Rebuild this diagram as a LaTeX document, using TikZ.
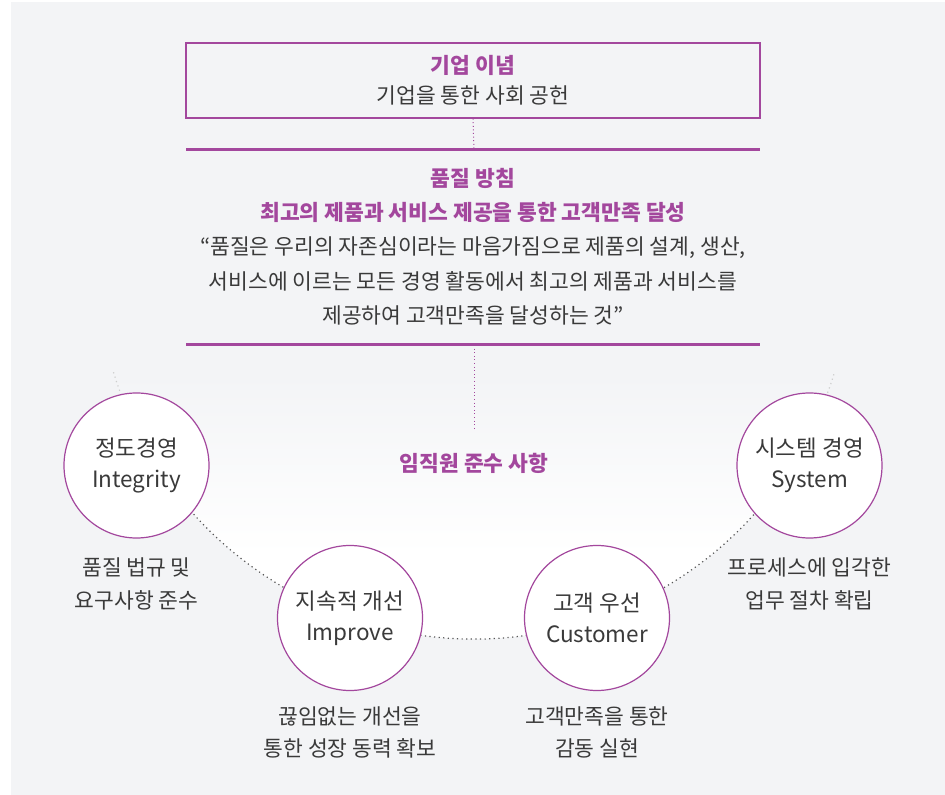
\documentclass[tikz,border=0pt]{standalone}
\usepackage{fontspec}
\setmainfont{Noto Sans CJK KR}
\usepackage{xcolor}
\usepackage{tikz}
\usetikzlibrary{positioning}
\definecolor{brand}{HTML}{A3479D}
\definecolor{ink}{HTML}{3A3A3A}
\definecolor{paper}{HTML}{F3F4F6}

\begin{document}
\begin{tikzpicture}[x=1pt,y=1pt,font=\fontsize{21.5}{30}\selectfont,node distance=15pt]
 \tikzset{box/.style={draw=brand,line width=1.2pt,align=center,text=ink,minimum width=574pt,minimum height=75pt},
          body/.style={align=center,text=ink,font=\fontsize{21.5}{34.3}\selectfont},
          head/.style={text=brand,font=\fontsize{21.5}{26}\selectfont\bfseries},
          rule/.style={brand,line width=3pt},
          link/.style={brand,line width=1pt,dash pattern=on 1pt off 2.6pt},
          ring/.style={ink!85,line width=1.2pt,dash pattern=on 1.2pt off 3.4pt},
          value/.style={circle,draw=brand,line width=1.2pt,fill=white,minimum size=145pt,inner sep=0pt,align=center,text=ink,font=\fontsize{22.5}{31}\selectfont},
          note/.style={align=center,text=ink,inner sep=0pt,font=\fontsize{21.5}{32.5}\selectfont}}
 \fill[paper] (11,0) rectangle (945,793);
 \useasboundingbox (0,0) rectangle (945,795);
 % glow inside the ring
 \begin{scope}
  \clip (474,533) circle (377);
  \shade[top color=paper,bottom color=white] (11,420) rectangle (945,240);
  \fill[white] (11,240) rectangle (945,0);
 \end{scope}
 % ideal and policy
 \node[box] (ideal) at (473,714.5) {{\color{brand}\bfseries 기업 이념}\\기업을 통한 사회 공헌};
 \coordinate (r1w) at (186,645); \coordinate (r1e) at (760,645); \coordinate (r1) at (474,645);
 \coordinate (r2w) at (186,450); \coordinate (r2e) at (760,450); \coordinate (r2) at (474,450);
 \coordinate (r3) at (474,367);
 \draw[rule] (r1w)--(r1e); \draw[rule] (r2w)--(r2e);
 \draw[link] (ideal.south)--(r1); \draw[link] (r2)--(r3);
 \node[body] (policy) at (473,548.5) {{\color{brand}\bfseries 품질 방침}\\
   {\color{brand}\bfseries 최고의 제품과 서비스 제공을 통한 고객만족 달성}\\
   “품질은 우리의 자존심이라는 마음가짐으로 제품의 설계, 생산,\\
   서비스에 이르는 모든 경영 활동에서 최고의 제품과 서비스를\\
   제공하여 고객만족을 달성하는 것”};
 \node[head] (duty) at (474,332) {임직원 준수 사항};
 % ring of values
 \draw[ring,ink!25] (474,533) ++(197:377) arc[start angle=197,end angle=201,radius=377];
 \draw[ring] (474,533) ++(201:377) arc[start angle=201,end angle=339,radius=377];
 \draw[ring,ink!25] (474,533) ++(339:377) arc[start angle=339,end angle=343,radius=377];
 \node[value] (int) at (136.5,329.5) {정도경영\\Integrity};
 \node[value] (imp) at (350,177) {지속적 개선\\Improve};
 \node[value] (cus) at (597,177) {고객 우선\\Customer};
 \node[value] (sys) at (809.5,329.5) {시스템 경영\\System};
 \node[note,below=19pt of int] (intn) {품질 법규 및\\요구사항 준수};
 \node[note,below=of imp] (impn) {끊임없는 개선을\\통한 성장 동력 확보};
 \node[note,below=of cus] (cusn) {고객만족을 통한\\감동 실현};
 \node[note,below=19pt of sys] (sysn) {프로세스에 입각한\\업무 절차 확립};
\end{tikzpicture}
\end{document}
